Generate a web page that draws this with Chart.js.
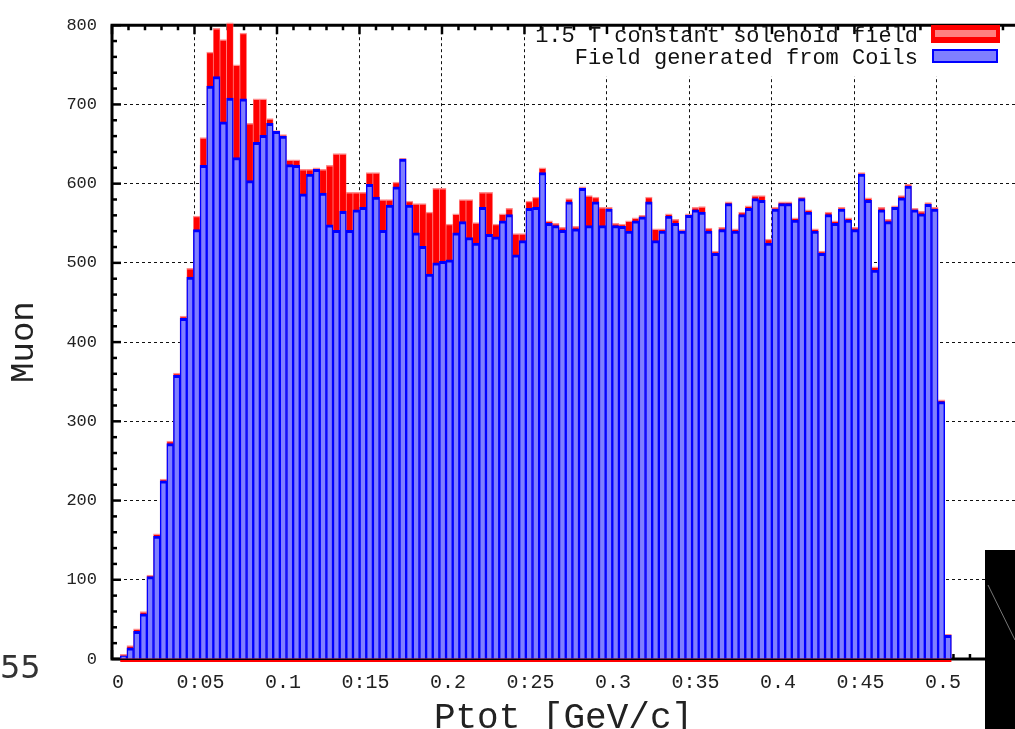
<!DOCTYPE html>
<html>
<head>
<meta charset="utf-8">
<script src="https://cdn.jsdelivr.net/npm/chart.js@4.4.0/dist/chart.umd.min.js"></script>
<style>
  html, body { margin: 0; padding: 0; background: #fff; overflow: hidden; }
  #wrap { position: relative; width: 1015px; height: 729px; }
  #stray { position: absolute; left: 0; top: 648px; font: 32px "DejaVu Sans", sans-serif; color: #333; }
  #corner { position: absolute; left: 985px; top: 550px; width: 30px; height: 179px; background: #000; }
</style>
</head>
<body>
<div id="wrap">
  <canvas id="ptotChart" width="1015" height="729"></canvas>
  <div id="stray">55</div>
  <div id="corner">
    <svg width="30" height="179"><line x1="3" y1="35" x2="30" y2="90" stroke="#777" stroke-width="1"/></svg>
  </div>
</div>
<script>
// Histogram binning (GeV/c)
const binLow = 0.005;
const binWidth = 0.00403;

// Muon counts per bin, 1.5 T constant solenoid field
const solenoidCounts = [
    6, 17, 38, 60, 106, 158, 227, 275, 361, 433,
    493, 559, 658, 766, 796, 782, 803, 750, 790, 676,
    707, 707, 682, 667, 662, 630, 630, 618, 618, 620,
    618, 623, 638, 638, 589, 589, 589, 614, 614, 580,
    580, 602, 632, 578, 575, 575, 564, 594, 594, 549,
    562, 580, 580, 551, 589, 589, 549, 562, 569, 537,
    537, 578, 583, 620, 553, 550, 545, 581, 546, 596,
    585, 583, 570, 570, 550, 549, 553, 557, 560, 583,
    543, 543, 562, 555, 542, 562, 570, 571, 544, 515,
    545, 577, 543, 564, 572, 585, 585, 530, 570, 577,
    577, 557, 583, 567, 543, 515, 564, 553, 570, 557,
    545, 614, 582, 495, 570, 555, 572, 585, 599, 569,
    565, 576, 570, 327, 31
];

// Muon counts per bin, field generated from coils
const coilCounts = [
    4, 14, 35, 57, 104, 155, 225, 272, 358, 430,
    482, 542, 623, 723, 735, 678, 708, 633, 707, 604,
    652, 661, 676, 666, 660, 624, 623, 587, 612, 618,
    588, 548, 541, 565, 541, 567, 570, 599, 583, 541,
    573, 596, 631, 573, 538, 521, 486, 500, 502, 504,
    538, 552, 532, 525, 570, 536, 533, 553, 561, 510,
    528, 569, 570, 614, 550, 547, 541, 577, 543, 594,
    547, 577, 547, 568, 547, 546, 540, 553, 558, 577,
    528, 540, 559, 550, 540, 560, 567, 564, 540, 512,
    542, 575, 540, 561, 569, 581, 579, 525, 568, 575,
    575, 554, 581, 564, 540, 512, 561, 550, 568, 554,
    542, 612, 579, 491, 567, 552, 570, 582, 597, 567,
    562, 574, 568, 325, 30
];

const seriesNames = ['1.5 T constant solenoid field', 'Field generated from Coils'];
const xTickLabels = ['0', '0:05', '0.1', '0:15', '0.2', '0:25', '0.3', '0:35', '0.4', '0:45', '0.5'];

function toPoints(counts) {
    return counts.map((c, i) => ({ x: binLow + binWidth * (i + 0.5), y: c }));
}

const monoFont = '"Liberation Mono", "DejaVu Sans Mono", monospace';

// Frame lines and inward major/minor ticks (drawn under the bars)
const frameTicks = {
    id: 'frameTicks',
    beforeDatasetsDraw(chart) {
        const { ctx, chartArea: a, scales: { x, y } } = chart;
        ctx.save();
        ctx.strokeStyle = '#000';
        ctx.lineWidth = 3;
        ctx.beginPath();
        ctx.moveTo(a.left, a.top);
        ctx.lineTo(a.right, a.top);
        ctx.moveTo(a.left, a.top - 1.5);
        ctx.lineTo(a.left, a.bottom + 1.5);
        ctx.moveTo(a.left, a.bottom);
        ctx.lineTo(a.right, a.bottom);
        ctx.stroke();

        ctx.lineWidth = 2.5;
        for (let k = 0; k <= 40; k++) {
            const py = y.getPixelForValue(k * 20);
            const len = k % 5 === 0 ? 9 : 5;
            ctx.beginPath();
            ctx.moveTo(a.left, py);
            ctx.lineTo(a.left + len, py);
            ctx.stroke();
        }
        for (let k = 0; k <= 60; k++) {
            const px = x.getPixelForValue(k * 0.01);
            if (px > a.right) break;
            const len = k % 5 === 0 ? 9 : 5;
            ctx.beginPath();
            ctx.moveTo(px, a.top);
            ctx.lineTo(px, a.top + len);
            ctx.moveTo(px, a.bottom);
            ctx.lineTo(px, a.bottom - len);
            ctx.stroke();
        }
        ctx.restore();
    }
};

// Red histogram baseline and the legend box in the upper right
const boxLegend = {
    id: 'boxLegend',
    afterDatasetsDraw(chart) {
        const { ctx, chartArea: a, scales: { x } } = chart;
        ctx.save();
        ctx.strokeStyle = '#ff0000';
        ctx.lineWidth = 2;
        ctx.beginPath();
        ctx.moveTo(x.getPixelForValue(binLow), a.bottom + 2);
        ctx.lineTo(x.getPixelForValue(binLow + binWidth * solenoidCounts.length), a.bottom + 2);
        ctx.stroke();

        ctx.fillStyle = '#fff';
        ctx.fillRect(530, a.top + 9, a.right - 532, 42);
        ctx.font = '22px ' + monoFont;
        ctx.fillStyle = '#111';
        ctx.textAlign = 'right';
        ctx.textBaseline = 'middle';
        ctx.fillText(seriesNames[0], 918, 36);
        ctx.fillText(seriesNames[1], 918, 58);

        ctx.fillStyle = '#ff0000';
        ctx.fillRect(931, 25, 69, 18);
        ctx.fillStyle = '#ff8080';
        ctx.fillRect(935, 30, 61, 7);

        ctx.fillStyle = '#0000ff';
        ctx.fillRect(932, 49, 66, 14);
        ctx.fillStyle = '#7f7fff';
        ctx.fillRect(934, 51, 62, 10);
        ctx.restore();
    }
};

const ctx = document.getElementById('ptotChart').getContext('2d');
const ptotChart = new Chart(ctx, {
    type: 'bar',
    data: {
        datasets: [
            {
                label: seriesNames[0],
                data: toPoints(solenoidCounts),
                backgroundColor: '#ff0000',
                borderColor: '#ff8c8c',
                borderWidth: { top: 1.5, left: 0.7, right: 0.7, bottom: 0 },
                grouped: false,
                barPercentage: 1,
                categoryPercentage: 1,
                order: 2,
                clip: false,
            },
            {
                label: seriesNames[1],
                data: toPoints(coilCounts),
                backgroundColor: '#7f7fff',
                borderColor: '#0000ff',
                borderWidth: { top: 3, left: 1.5, right: 1.5, bottom: 0 },
                grouped: false,
                barPercentage: 1,
                categoryPercentage: 1,
                order: 1,
            },
        ],
    },
    options: {
        responsive: false,
        animation: false,
        devicePixelRatio: 1,
        layout: { padding: { top: 15, right: 0, left: 0, bottom: 0 } },
        plugins: { legend: { display: false }, tooltip: { enabled: false } },
        scales: {
            x: {
                type: 'linear',
                offset: false,
                min: 0,
                max: 0.5473,
                afterFit(scale) { scale.height = 70; },
                ticks: {
                    stepSize: 0.05,
                    includeBounds: false,
                    padding: 12,
                    labelOffset: 6,
                    maxRotation: 0,
                    color: '#222',
                    font: { family: monoFont, size: 20 },
                    callback: (v, i) => xTickLabels[i],
                },
                grid: {
                    offset: false,
                    color: '#111',
                    lineWidth: 1,
                    drawTicks: false,
                },
                border: { display: false, dash: [3, 3] },
                title: {
                    display: true,
                    text: 'Ptot [GeV/c]',
                    color: '#222',
                    font: { family: monoFont, size: 36, lineHeight: 0.6 },
                    padding: 0,
                },
            },
            y: {
                min: 0,
                max: 800,
                afterFit(scale) { scale.width = 112; },
                ticks: {
                    stepSize: 100,
                    padding: 15,
                    color: '#222',
                    font: { family: monoFont, size: 17 },
                },
                grid: {
                    color: '#111',
                    lineWidth: 1,
                    drawTicks: false,
                },
                border: { display: false, dash: [3, 3] },
                title: {
                    display: true,
                    text: 'Muon',
                    color: '#222',
                    font: { family: monoFont, size: 34, lineHeight: 1.2 },
                    padding: { top: 4, bottom: 0 },
                },
            },
        },
    },
    plugins: [frameTicks, boxLegend],
});
</script>
</body>
</html>
